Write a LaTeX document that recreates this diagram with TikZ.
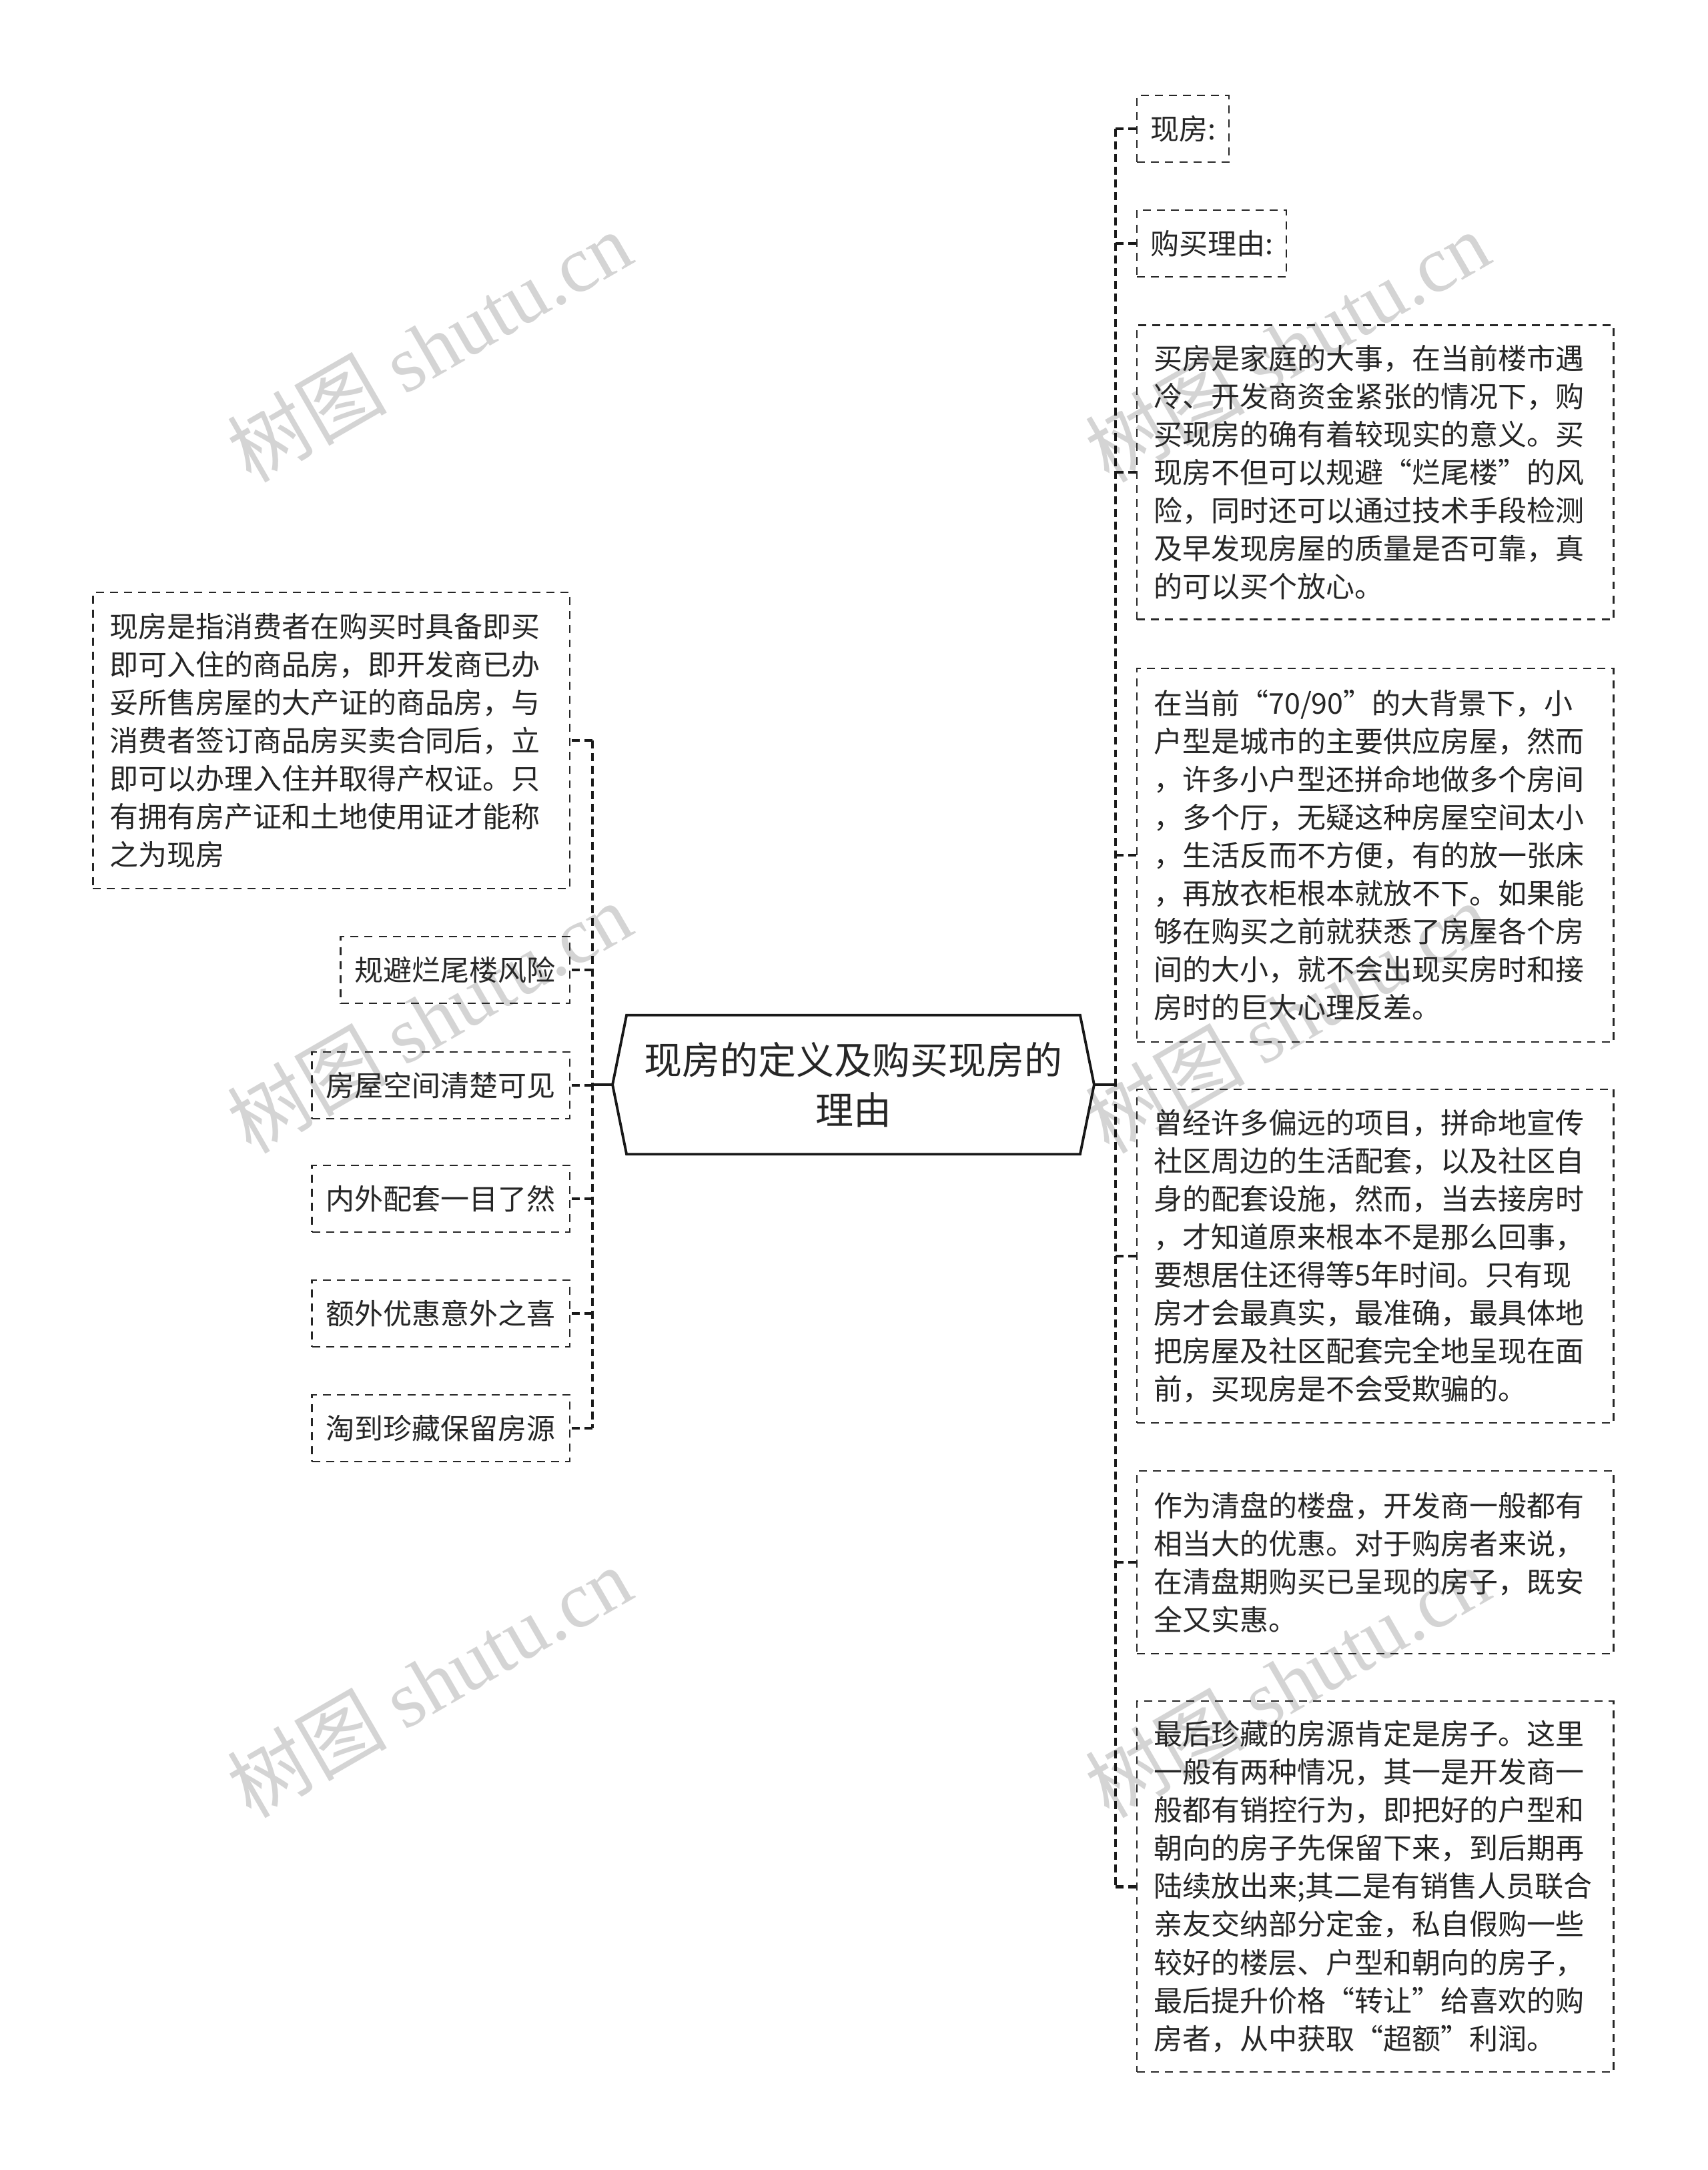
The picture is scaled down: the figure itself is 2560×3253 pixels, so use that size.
\documentclass[tikz,border=0pt]{standalone}
\usepackage{fontspec}
\setmainfont{Noto Sans CJK SC}
\newfontfamily\wmserif{Liberation Serif}
\newfontfamily\wmcjk{Noto Sans CJK SC}
\definecolor{txt}{RGB}{38,38,38}
\definecolor{wmgray}{RGB}{212,212,212}
\tikzset{
  box/.style={draw=black!85, line width=0.7pt, dash pattern=on 3.4pt off 2.6pt,
    text=txt, font=\fontsize{12.23pt}{16.22pt}\selectfont},
  bigtext/.style={box, text width=6.64cm, align=left, inner xsep=0.25cm, inner ysep=0pt},
  smalltext/.style={box, inner xsep=0.21cm, inner ysep=0pt, minimum height=1cm},
  trunk/.style={draw=black!90, line width=1.4pt, dash pattern=on 3.4pt off 2pt},
  conn/.style={draw=black!90, line width=1.1pt},
  hexline/.style={draw=black!90, line width=1.1pt},
  wm/.style={text=wmgray, font=\fontsize{34pt}{40pt}\selectfont, rotate=30, inner sep=0pt}
}
\begin{document}
\begin{tikzpicture}[x=0.01cm,y=-0.01cm]
\fill[white] (0,0) rectangle (2560,3253);
\useasboundingbox (0,0) rectangle (2560,3253);

% watermarks
\foreach \wx/\wy [count=\i] in {643/519,1929/519,643/1525,1929/1525,643/2521,1929/2521}{
  \node[wm] (wm\i) at (\wx,\wy) {\wmcjk 树图 \wmserif shutu.cn};
}

% root
\node[minimum width=7.2cm, minimum height=2.07cm, inner sep=0pt, align=center,
  text=txt, font=\fontsize{16.2pt}{21.3pt}\selectfont] (root) at (1279,1626)
  {现房的定义及购买现房的\\理由};
\draw[hexline] (root.west) -- ([xshift=0.21cm]root.north west) -- ([xshift=-0.21cm]root.north east)
  -- (root.east) -- ([xshift=-0.21cm]root.south east) -- ([xshift=0.21cm]root.south west) -- cycle;

% left nodes
\node[bigtext, minimum height=4.44cm, anchor=east] (l1) at (855,1110)
 {现房是指消费者在购买时具备即买\\即可入住的商品房，即开发商已办\\妥所售房屋的大产证的商品房，与\\消费者签订商品房买卖合同后，立\\即可以办理入住并取得产权证。只\\有拥有房产证和土地使用证才能称\\之为现房};
\node[smalltext, anchor=east] (l2) at (855,1454) {规避烂尾楼风险};
\node[smalltext, anchor=east] (l3) at (855,1627) {房屋空间清楚可见};
\node[smalltext, anchor=east] (l4) at (855,1797) {内外配套一目了然};
\node[smalltext, anchor=east] (l5) at (855,1969) {额外优惠意外之喜};
\node[smalltext, anchor=east] (l6) at (855,2141) {淘到珍藏保留房源};

% right nodes
\node[smalltext, inner xsep=0.2cm, anchor=west] (r1) at (1703,193) {现房:};
\node[smalltext, inner xsep=0.2cm, anchor=west] (r2) at (1703,365) {购买理由:};
\node[bigtext, minimum height=4.41cm, anchor=west] (r3) at (1703,708)
 {买房是家庭的大事，在当前楼市遇\\冷、开发商资金紧张的情况下，购\\买现房的确有着较现实的意义。买\\现房不但可以规避“烂尾楼”的风\\险，同时还可以通过技术手段检测\\及早发现房屋的质量是否可靠，真\\的可以买个放心。};
\node[bigtext, minimum height=5.60cm, anchor=west] (r4) at (1703,1282)
 {在当前“70/90”的大背景下，小\\户型是城市的主要供应房屋，然而\\，许多小户型还拼命地做多个房间\\，多个厅，无疑这种房屋空间太小\\，生活反而不方便，有的放一张床\\，再放衣柜根本就放不下。如果能\\够在购买之前就获悉了房屋各个房\\间的大小，就不会出现买房时和接\\房时的巨大心理反差。};
\node[bigtext, minimum height=5.00cm, anchor=west] (r5) at (1703,1883)
 {曾经许多偏远的项目，拼命地宣传\\社区周边的生活配套，以及社区自\\身的配套设施，然而，当去接房时\\，才知道原来根本不是那么回事，\\要想居住还得等5年时间。只有现\\房才会最真实，最准确，最具体地\\把房屋及社区配套完全地呈现在面\\前，买现房是不会受欺骗的。};
\node[bigtext, minimum height=2.74cm, anchor=west] (r6) at (1703,2342)
 {作为清盘的楼盘，开发商一般都有\\相当大的优惠。对于购房者来说，\\在清盘期购买已呈现的房子，既安\\全又实惠。};
\node[bigtext, minimum height=5.56cm, anchor=west] (r7) at (1703,2828)
 {最后珍藏的房源肯定是房子。这里\\一般有两种情况，其一是开发商一\\般都有销控行为，即把好的户型和\\朝向的房子先保留下来，到后期再\\陆续放出来;其二是有销售人员联合\\亲友交纳部分定金，私自假购一些\\较好的楼层、户型和朝向的房子，\\最后提升价格“转让”给喜欢的购\\房者，从中获取“超额”利润。};

% connectors
\coordinate (lt) at (888,1626);
\coordinate (rt) at (1672,1626);
\draw[conn] (root.west) -- (lt);
\draw[conn] (root.east) -- (rt);
\draw[trunk] (lt |- l1.east) -- (lt |- l6.east);
\foreach \n in {l1,l2,l3,l4,l5,l6}{\draw[trunk] (lt |- \n.east) -- (\n.east);}
\draw[trunk] (rt |- r1.west) -- (rt |- r7.west);
\foreach \n in {r1,r2,r3,r4,r5,r6,r7}{\draw[trunk] (rt |- \n.west) -- (\n.west);}
\end{tikzpicture}
\end{document}
